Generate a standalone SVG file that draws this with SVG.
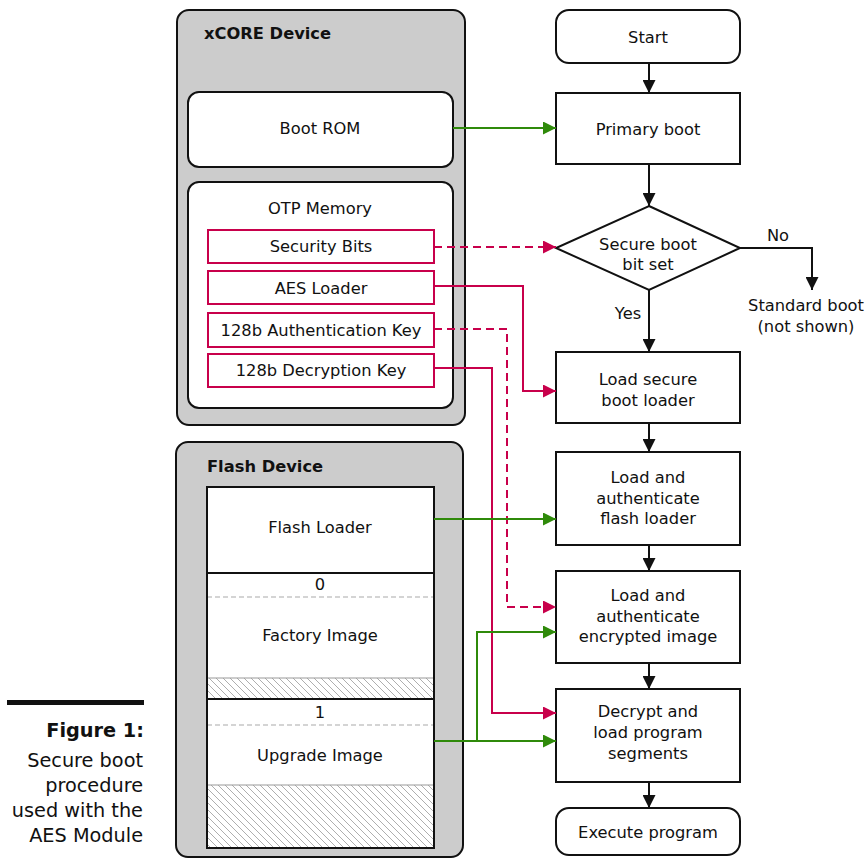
<svg xmlns="http://www.w3.org/2000/svg" width="865" height="859" viewBox="0 0 865 859">
<style>
text{font-family:"DejaVu Sans","Liberation Sans",sans-serif;font-size:16.3px;fill:#111;text-anchor:middle}
.title{font-weight:bold;text-anchor:start}
.dev{fill:#cccccc;stroke:#111;stroke-width:2}
.wb{fill:#fff;stroke:#111;stroke-width:2}
.rb{fill:#fff;stroke:#c8004b;stroke-width:2}
.blk{fill:none;stroke:#111;stroke-width:2}
.grn{fill:none;stroke:#2f8a0a;stroke-width:2}
.red{fill:none;stroke:#c8004b;stroke-width:2}
.dash{stroke-dasharray:8,5}
.cap{font-size:19.3px;text-anchor:end}
</style>
<defs>
<marker id="ab" viewBox="0 0 13 13" refX="13" refY="6.5" markerWidth="13" markerHeight="13" markerUnits="userSpaceOnUse" orient="auto"><path d="M0,0 L13,6.5 L0,13 z" fill="#111"/></marker>
<marker id="ag" viewBox="0 0 13 13" refX="13" refY="6.5" markerWidth="13" markerHeight="13" markerUnits="userSpaceOnUse" orient="auto"><path d="M0,0 L13,6.5 L0,13 z" fill="#2f8a0a"/></marker>
<marker id="ar" viewBox="0 0 13 13" refX="13" refY="6.5" markerWidth="13" markerHeight="13" markerUnits="userSpaceOnUse" orient="auto"><path d="M0,0 L13,6.5 L0,13 z" fill="#c8004b"/></marker>
<pattern id="hatch" width="7" height="7" patternUnits="userSpaceOnUse"><path d="M0,0 L7,7 M-1,6 L1,8 M6,-1 L8,1" stroke="#999" stroke-width="0.8"/></pattern>
</defs>

<g id="xcore">
<rect class="dev" x="177" y="10" width="288" height="415" rx="12"/>
<text class="title" x="204" y="39">xCORE Device</text>
</g>
<g id="bootrom">
<rect class="wb" x="188" y="92" width="265" height="75" rx="11"/>
<text x="320" y="134">Boot ROM</text>
</g>
<g id="otp">
<rect class="wb" x="188" y="182" width="265" height="226" rx="11"/>
<text x="320" y="214">OTP Memory</text>
</g>
<g id="secbits"><rect class="rb" x="208" y="230" width="226" height="33"/><text x="321" y="252">Security Bits</text></g>
<g id="aesloader"><rect class="rb" x="208" y="271" width="226" height="33"/><text x="321" y="294">AES Loader</text></g>
<g id="authkey"><rect class="rb" x="208" y="313" width="226" height="34"/><text x="321" y="336">128b Authentication Key</text></g>
<g id="deckey"><rect class="rb" x="208" y="354" width="226" height="33"/><text x="321" y="376">128b Decryption Key</text></g>

<g id="flash">
<rect class="dev" x="176" y="442" width="287" height="415" rx="12"/>
<text class="title" x="207" y="472">Flash Device</text>
<rect x="207" y="487" width="227" height="361" fill="#fff" stroke="none"/>
<rect x="207" y="678" width="227" height="21" fill="url(#hatch)"/>
<rect x="207" y="785" width="227" height="63" fill="url(#hatch)"/>
<line x1="207" y1="678" x2="434" y2="678" stroke="#999" stroke-width="1"/>
<line x1="207" y1="785" x2="434" y2="785" stroke="#999" stroke-width="1"/>
<line x1="207" y1="597" x2="434" y2="597" stroke="#aaa" stroke-width="1.2" stroke-dasharray="5,3"/>
<line x1="207" y1="725" x2="434" y2="725" stroke="#aaa" stroke-width="1.2" stroke-dasharray="5,3"/>
<line x1="207" y1="573" x2="434" y2="573" stroke="#111" stroke-width="2"/>
<line x1="207" y1="699" x2="434" y2="699" stroke="#111" stroke-width="2"/>
<rect x="207" y="487" width="227" height="361" fill="none" stroke="#111" stroke-width="2"/>
</g>
<g id="flashloader"><text x="320" y="533">Flash Loader</text></g>
<g id="factory"><text x="320" y="590">0</text><text x="320" y="641">Factory Image</text></g>
<g id="upgrade"><text x="320" y="718">1</text><text x="320" y="761">Upgrade Image</text></g>

<g id="start"><rect class="wb" x="556" y="10" width="184" height="53" rx="13"/><text x="648" y="43">Start</text></g>
<g id="primary"><rect class="wb" x="556" y="93" width="184" height="71"/><text x="648" y="135">Primary boot</text></g>
<g id="decision"><polygon class="wb" points="649,206 740,248 649,290 556,248"/><text x="648" y="250">Secure boot</text><text x="648" y="270">bit set</text></g>
<g id="standard"><text x="806" y="311">Standard boot</text><text x="806" y="332">(not shown)</text></g>
<g id="loadsecure"><rect class="wb" x="556" y="352" width="184" height="71"/><text x="648" y="385">Load secure</text><text x="648" y="406">boot loader</text></g>
<g id="loadflash"><rect class="wb" x="556" y="452" width="184" height="93"/><text x="648" y="483">Load and</text><text x="648" y="504">authenticate</text><text x="648" y="524">flash loader</text></g>
<g id="loadenc"><rect class="wb" x="556" y="571" width="184" height="92"/><text x="648" y="601">Load and</text><text x="648" y="622">authenticate</text><text x="648" y="642">encrypted image</text></g>
<g id="decrypt"><rect class="wb" x="556" y="689" width="184" height="93"/><text x="648" y="717">Decrypt and</text><text x="648" y="738">load program</text><text x="648" y="759">segments</text></g>
<g id="execute"><rect class="wb" x="556" y="808" width="184" height="47" rx="13"/><text x="648" y="838">Execute program</text></g>

<g id="caption">
<rect x="7" y="700" width="137" height="5" fill="#111"/>
<text class="cap" x="144" y="737" font-weight="bold">Figure 1:</text>
<text class="cap" x="143" y="767">Secure boot</text>
<text class="cap" x="143" y="792">procedure</text>
<text class="cap" x="143" y="817">used with the</text>
<text class="cap" x="143" y="842">AES Module</text>
</g>

<g id="connectors">
<line class="blk" x1="649" y1="63" x2="649" y2="93" marker-end="url(#ab)"/>
<line class="blk" x1="649" y1="164" x2="649" y2="206" marker-end="url(#ab)"/>
<line class="blk" x1="649" y1="290" x2="649" y2="352" marker-end="url(#ab)"/>
<polyline class="blk" points="740,248 812,248 812,290" marker-end="url(#ab)"/>
<line class="blk" x1="649" y1="423" x2="649" y2="452" marker-end="url(#ab)"/>
<line class="blk" x1="649" y1="545" x2="649" y2="571" marker-end="url(#ab)"/>
<line class="blk" x1="649" y1="663" x2="649" y2="689" marker-end="url(#ab)"/>
<line class="blk" x1="649" y1="782" x2="649" y2="808" marker-end="url(#ab)"/>
<line class="grn" x1="453" y1="128" x2="556" y2="128" marker-end="url(#ag)"/>
<line class="red dash" x1="434" y1="247" x2="556" y2="247" marker-end="url(#ar)"/>
<polyline class="red" points="434,286 523,286 523,391 556,391" marker-end="url(#ar)"/>
<polyline class="red dash" points="434,329 507,329 507,607 556,607" marker-end="url(#ar)"/>
<polyline class="red" points="434,368 492,368 492,713 556,713" marker-end="url(#ar)"/>
<line class="grn" x1="434" y1="519" x2="556" y2="519" marker-end="url(#ag)"/>
<line class="grn" x1="434" y1="741" x2="556" y2="741" marker-end="url(#ag)"/>
<polyline class="grn" points="477,741 477,632 556,632" marker-end="url(#ag)"/>
</g>
<text x="778" y="241">No</text>
<text x="628" y="319">Yes</text>
</svg>
